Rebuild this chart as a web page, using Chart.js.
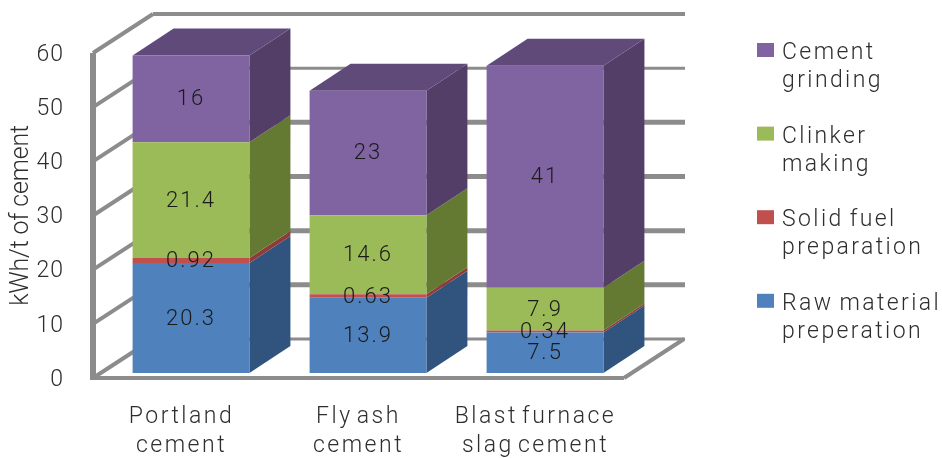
<!DOCTYPE html>
<html>
<head>
<meta charset="utf-8">
<title>Electricity use by cement type</title>
<style>html,body{margin:0;padding:0;background:#fff}canvas{display:block}</style>
<script src="https://cdn.jsdelivr.net/npm/chart.js@4"></script>
</head>
<body>
<canvas id="chart" width="942" height="458"></canvas>
<script>
// Electricity demand per tonne of cement, by production stage
const categories = [['Portland', 'cement'], ['Fly ash', 'cement'], ['Blast furnace', 'slag cement']];
const rawMaterial = [20.3, 13.9, 7.5];
const solidFuel = [0.92, 0.63, 0.34];
const clinker = [21.4, 14.6, 7.9];
const grinding = [16, 23, 41];
const yTitle = 'kWh/t of cement';
const legendNames = [
  ['Cement', 'grinding'],
  ['Clinker', 'making'],
  ['Solid fuel', 'preparation'],
  ['Raw material', 'preperation']
];

const FRONT = ['#4F81BD', '#C0504D', '#9BBB59', '#8064A2'];
const SIDE = ['#31547E', '#8E3B39', '#647A33', '#533E68'];
const TOP_FACE = '#5F4A79';
const FRAME = '#8C8C8C';
const TEXT = '#2E2E2E';
const FONT = 'Roboto, Liberation Sans, sans-serif';
const WEIGHT = 300;

const WALL_DX = 60, WALL_DY = -39;   // depth of the floor and side wall
const BAR_DX = 41, BAR_DY = -27;     // depth of each column
const SHIFT_X = 9.5, SHIFT_Y = -5;   // columns stand slightly back from the front edge

// Apply canvas letter and word spacing around one of a scale's draw steps
function track(scale, method, spacing, words, nudgeY) {
  const base = scale[method];
  scale[method] = function (area) {
    const ctx = this.ctx;
    ctx.save();
    ctx.letterSpacing = spacing;
    ctx.wordSpacing = words || '0px';
    ctx.translate(0, nudgeY || 0);
    base.call(this, area);
    ctx.restore();
  };
}

function line(ctx, x1, y1, x2, y2, width) {
  ctx.lineWidth = width;
  ctx.beginPath();
  ctx.moveTo(x1, y1);
  ctx.lineTo(x2, y2);
  ctx.stroke();
}

function face(ctx, points, color) {
  ctx.fillStyle = color;
  ctx.beginPath();
  points.forEach((p, i) => (i ? ctx.lineTo(p[0], p[1]) : ctx.moveTo(p[0], p[1])));
  ctx.closePath();
  ctx.fill();
}

const box3d = {
  id: 'box3d',
  afterLayout(chart) {
    if (chart.$tracked) return;
    chart.$tracked = true;
    track(chart.scales.x, 'drawLabels', '2.5px', '-4px');
    track(chart.scales.y, 'drawLabels', '1px', '0px', 2);
    track(chart.scales.y, 'drawTitle', '-0.2px');
  },
  beforeDatasetsDraw(chart) {
    const ctx = chart.ctx;
    const { x: xs, y: ys } = chart.scales;
    const l = xs.left, r = xs.right;
    ctx.save();
    ctx.strokeStyle = FRAME;
    ctx.lineCap = 'butt';
    // Side wall edge, floor edge and the lines that run round the walls
    ys.ticks.forEach(t => {
      const y = ys.getPixelForValue(t.value);
      const back = t.value === 50 || t.value === 0 ? 3 : (t.value === 60 ? 4 : 5);
      line(ctx, l, y, l + WALL_DX, y + WALL_DY, 4);
      line(ctx, l + WALL_DX, y + WALL_DY, r + WALL_DX + 1, y + WALL_DY, back);
    });
    const y0 = ys.getPixelForValue(0);
    line(ctx, l, ys.getPixelForValue(60), l, y0 + 2, 6);
    line(ctx, l, y0, r, y0, 4);
    line(ctx, r, y0, r + WALL_DX, y0 + WALL_DY, 4);
    ctx.restore();

    // Everything in the column layer is pushed back together
    ctx.save();
    ctx.translate(SHIFT_X, SHIFT_Y);
    chart.data.datasets.forEach((ds, d) => {
      chart.getDatasetMeta(d).data.forEach(el => {
        const R = el.x + el.width / 2, L = el.x - el.width / 2;
        face(ctx, [[R, el.y], [R + BAR_DX, el.y + BAR_DY], [R + BAR_DX, el.base + BAR_DY], [R, el.base]], SIDE[d]);
        if (d === chart.data.datasets.length - 1) {
          face(ctx, [[L, el.y], [L + BAR_DX, el.y + BAR_DY], [R + BAR_DX, el.y + BAR_DY], [R, el.y]], TOP_FACE);
        }
      });
    });
  },
  afterDatasetsDraw(chart) {
    const ctx = chart.ctx;
    // Value labels at the middle of each front face
    ctx.font = WEIGHT + ' 22px ' + FONT;
    ctx.fillStyle = '#1A1A1A';
    ctx.textAlign = 'center';
    ctx.textBaseline = 'middle';
    ctx.letterSpacing = '2px';
    chart.data.datasets.forEach((ds, d) => {
      chart.getDatasetMeta(d).data.forEach((el, i) => {
        ctx.fillText(String(ds.data[i]), el.x, (el.y + el.base) / 2 + 1);
      });
    });
    ctx.restore();

    // Legend
    ctx.save();
    ctx.font = WEIGHT + ' 23px ' + FONT;
    ctx.textAlign = 'left';
    ctx.textBaseline = 'alphabetic';
    ctx.letterSpacing = '2.4px';
    ctx.wordSpacing = '-2px';
    legendNames.forEach((lines, i) => {
      const top = 43 + i * 83.6;
      ctx.fillStyle = FRONT[FRONT.length - 1 - i];
      ctx.fillRect(757, top, 17, 14);
      ctx.fillStyle = TEXT;
      lines.forEach((text, j) => ctx.fillText(text, 782, top + 16 + j * 28));
    });
    ctx.restore();
  }
};

const seriesValues = [rawMaterial, solidFuel, clinker, grinding];

new Chart(document.getElementById('chart'), {
  type: 'bar',
  data: {
    labels: categories,
    datasets: seriesValues.map((data, i) => ({
      data,
      backgroundColor: FRONT[i],
      borderWidth: 0,
      clip: false,
      categoryPercentage: 1,
      barPercentage: 0.66
    }))
  },
  options: {
    responsive: false,
    animation: false,
    layout: { padding: { top: 53, right: 318, bottom: 0, left: 0 } },
    plugins: { legend: { display: false }, tooltip: { enabled: false } },
    scales: {
      x: {
        stacked: true,
        afterFit: s => { s.height = 80; },
        grid: { display: false, drawTicks: false },
        border: { display: false },
        ticks: {
          padding: 25,
          maxRotation: 0,
          autoSkip: false,
          color: TEXT,
          font: { family: FONT, weight: WEIGHT, size: 23, lineHeight: 1.26 }
        }
      },
      y: {
        stacked: true,
        min: 0,
        max: 60,
        afterFit: s => { s.width = 93; },
        grid: { display: false, drawTicks: false },
        border: { display: false },
        title: {
          display: true,
          text: yTitle,
          color: TEXT,
          padding: { top: 7, bottom: 0 },
          font: { family: FONT, weight: WEIGHT, size: 25 }
        },
        ticks: {
          stepSize: 10,
          padding: 29,
          color: TEXT,
          font: { family: FONT, weight: WEIGHT, size: 23 }
        }
      }
    }
  },
  plugins: [box3d]
});
</script>
</body>
</html>
